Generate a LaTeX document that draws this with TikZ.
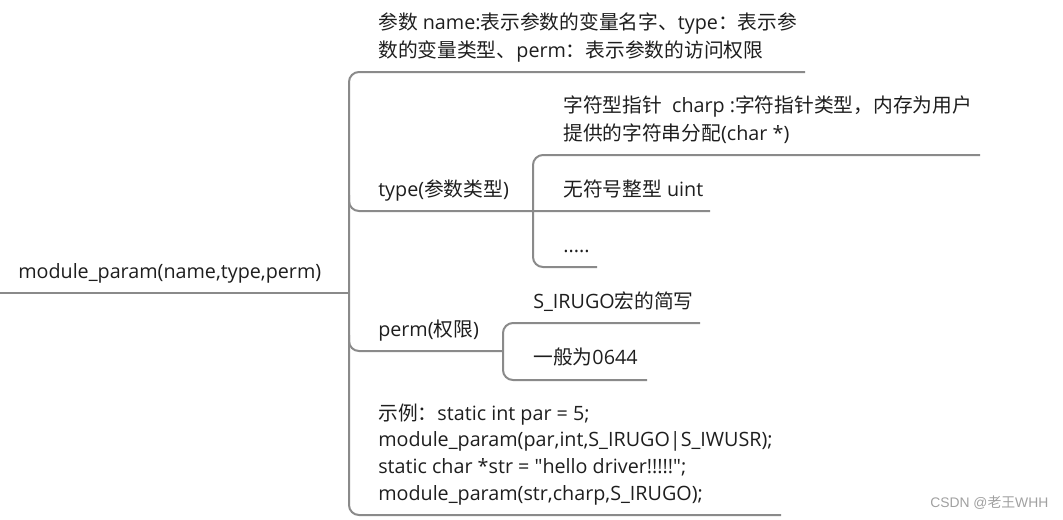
\documentclass[tikz,border=0pt]{standalone}
\usepackage{fontspec}
\setmainfont{Open Sans}[Ligatures=TeXOff]
\newfontfamily\cjk{Noto Sans CJK SC}
\newfontfamily\wmfont{Liberation Sans}
\newcommand\zh[1]{{\cjk #1}}
\definecolor{linegray}{HTML}{8A8A8A}
\definecolor{txt}{HTML}{1E1E1E}
\definecolor{wmgray}{HTML}{A0A0A0}
\begin{document}
\begin{tikzpicture}[x=0.75pt,y=-0.75pt,
  lbl/.style={anchor=base west,inner sep=0pt,text=txt,align=left,
    font=\fontsize{14.8}{21}\selectfont},
  codeblk/.style={lbl,font=\fontsize{14.8}{19.9}\selectfont},
  branch/.style={draw=linegray,line width=1.5pt,rounded corners=7.5pt},
  wm/.style={anchor=base west,inner sep=0pt,text=wmgray,font=\wmfont\fontsize{10.4}{12}\selectfont}]
\useasboundingbox (0,0) rectangle (1063,519);
% text nodes (base anchor = baseline of the last line)
\node[lbl] (root) at (18,278) {module\_param(name,type,perm)};
\node[lbl] (desc) at (378,57) {\zh{参数} name:\zh{表示参数的变量名字、}type\zh{：表示参}\\\zh{数的变量类型、}perm\zh{：表示参数的访问权限}};
\node[lbl] (type) at (378,196) {type(\zh{参数类型})};
\node[lbl] (charp) at (563,140) {\zh{字符型指针}\ \ charp :\zh{字符指针类型，内存为用户}\\\zh{提供的字符串分配}(char *)};
\node[lbl] (uint) at (563,196) {\zh{无符号整型} uint};
\node[lbl] (dots) at (563,252) {.....};
\node[lbl] (perm) at (378,336) {perm(\zh{权限})};
\node[lbl] (sirugo) at (533,308) {S\_IRUGO\zh{宏的简写}};
\node[lbl] (mode) at (533,364) {\zh{一般为}0644};
\node[codeblk] (example) at (378,500) {\zh{示例：}static int par = 5;\\module\_param(par,int,S\_IRUGO|S\_IWUSR);\\static char *str = "hello driver!!!!!";\\module\_param(str,charp,S\_IRUGO);};
\node[wm] (mark) at (930,507) {CSDN @{\cjk 老王}WHH};
% junction coordinates
\coordinate (rootL) at (0,293);
\coordinate (hub) at (349,293);
\coordinate (descEnd) at (805,72);
\coordinate (exEnd) at (781,515);
\coordinate (typeHub) at (533,211);
\coordinate (permHub) at (503,351);
% main trunk
\draw[branch] (rootL) -- (hub);
\draw[branch] (descEnd) -- (hub |- descEnd) -- (hub |- exEnd) -- (exEnd);
\draw[branch] (349,195) -- (349,211) -- (710,211);
\draw[branch] (349,335) -- (permHub -| hub) -- (permHub);
% type children
\draw[branch] (980,155) -- (533,155) -- (typeHub) -- (533,267) -- (597,267);
% perm children
\draw[branch] (700,323) -- (503,323) -- (permHub) -- (503,380) -- (647,380);
\end{tikzpicture}
\end{document}
